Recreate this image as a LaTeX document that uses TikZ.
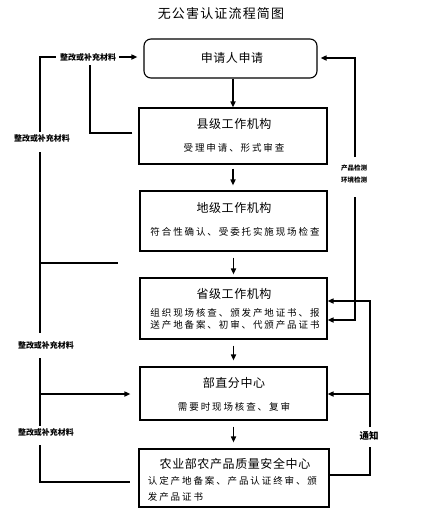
\documentclass[tikz,border=0pt]{standalone}
\usepackage{fontspec}
\newfontfamily\cjk{Noto Sans CJK SC}
\usetikzlibrary{arrows.meta}
\begin{document}
\begin{tikzpicture}[x=1pt,y=-1pt,line width=1.8pt,
  box/.style={draw,line width=1.1pt,inner sep=0pt},
  arr/.style={-{Triangle[length=6pt,width=5pt]}},
  titletxt/.style={font=\cjk\fontsize{13}{15}\selectfont\addfontfeature{LetterSpace=9},inner sep=0pt},
  maintxt/.style={font=\cjk\fontsize{12}{14}\selectfont\addfontfeature{LetterSpace=5},inner sep=0pt},
  subtxt/.style={font=\cjk\fontsize{9.5}{12}\selectfont\addfontfeature{LetterSpace=20},inner sep=0pt},
  lab/.style={font=\cjk\bfseries\fontsize{8}{9}\selectfont,inner sep=0pt},
  smlab/.style={font=\cjk\bfseries\fontsize{6.5}{12}\selectfont,inner sep=0pt,align=center},
  nlab/.style={font=\cjk\bfseries\fontsize{9.5}{11}\selectfont,inner sep=0pt}]
\useasboundingbox (0,0) rectangle (434,531);

\node[titletxt] (title) at (221,14) {无公害认证流程简图};

% boxes
\node[box,rounded corners=7pt,minimum width=173pt,minimum height=39pt] (b1) at (230.5,58.5) {};
\node[maintxt] (b1t) at (232,58) {申请人申请};

\node[box,minimum width=188pt,minimum height=56pt] (b2) at (233,136) {};
\node[maintxt] (b2t) at (234,124) {县级工作机构};
\node[subtxt] (b2s) at (234,148) {受理申请、形式审查};

\node[box,minimum width=187pt,minimum height=60pt] (b3) at (233.5,221) {};
\node[maintxt] (b3t) at (234,208) {地级工作机构};
\node[subtxt] (b3s) at (235,232) {符合性确认、受委托实施现场检查};

\node[box,minimum width=187pt,minimum height=61pt] (b4) at (233.5,308.5) {};
\node[maintxt] (b4t) at (234,294) {省级工作机构};
\node[subtxt,align=center] (b4s) at (235,319) {组织现场核查、颁发产地证书、报\\送产地备案、初审、代颁产品证书};

\node[box,minimum width=187pt,minimum height=53pt] (b5) at (233.5,393.5) {};
\node[maintxt] (b5t) at (234,383) {部直分中心};
\node[subtxt] (b5s) at (234,407) {需要时现场核查、复审};

\node[box,minimum width=190pt,minimum height=58pt] (b6) at (234,478) {};
\node[maintxt] (b6t) at (235,464) {农业部农产品质量安全中心};
\node[subtxt,align=left,font=\cjk\fontsize{9.5}{16}\selectfont\addfontfeature{LetterSpace=20},anchor=west] (b6s) at (147,489) {认定产地备案、产品认证终审、颁\\发产品证书};

% main chain
\draw[arr] (b1.south -| b2.north) -- (b2.north);
\draw[arr,shorten <=4pt,shorten >=5pt] (b2.south) -- (b2.south |- b3.north);
\draw[arr,shorten <=6pt,shorten >=3pt] (b3.south) -- (b3.south |- b4.north);
\draw[arr,shorten <=6pt,shorten >=6pt] (b4.south) -- (b4.south |- b5.north);
\draw[arr,shorten <=6pt,shorten >=6pt] (b5.south) -- (b5.south |- b6.north);

% left labels
\node[lab] (L1) at (88,57) {整改或补充材料};
\node[lab] (L2) at (42,138) {整改或补充材料};
\node[lab] (L3) at (46,345) {整改或补充材料};
\node[lab] (L4) at (46,432) {整改或补充材料};

\coordinate (cTL) at (40,57);
\coordinate (cL2a) at (40,132);
\coordinate (cL2b) at (40,152);
\coordinate (cH1) at (40,263);
\coordinate (cH1e) at (118,263);
\coordinate (cL3a) at (40,333);
\coordinate (cL3b) at (40,358);
\coordinate (cA5) at (40,394);
\coordinate (cL4a) at (40,426);
\coordinate (cL4b) at (40,445);
\coordinate (cB6) at (40,482);
\coordinate (cV) at (90,133);
\coordinate (cVtop) at (90,65);

\draw[shorten >=3pt] (cL2a) -- (cTL) -- (L1.west);
\draw[arr,shorten <=2pt,shorten >=6pt] (L1.east) -- (b1.west |- L1.east);
\draw[shorten <=6pt] (b2.west |- cV) -- (cV) -- (cVtop);
\draw (cL2b) -- (cL3a);
\draw (cH1) -- (cH1e);
\draw (cL3b) -- (cL4a);
\draw[arr,shorten >=9pt] (cA5) -- (b5.west |- cA5);
\draw[shorten >=8pt] (cL4b) -- (cB6) -- (b6.west |- cB6);

% right side
\node[smlab] (R1) at (354,174) {产品检测\\环境检测};
\node[nlab] (R2) at (369,436) {通知};

\coordinate (cR1top) at (355,58);
\coordinate (cR1a) at (355,157);
\coordinate (cR1b) at (355,197);
\coordinate (cR1bot) at (355,320);
\coordinate (cR2top) at (370,301);
\coordinate (cR2mid) at (370,394);
\coordinate (cR2a) at (370,427);
\coordinate (cR2b) at (370,447);
\coordinate (cR2bot) at (370,475);

\draw[arr,shorten >=3pt] (cR1a) -- (cR1top) -- (b1.east |- cR1top);
\draw[arr] (cR1b) -- (cR1bot) -- (b4.east |- cR1bot);
\draw[arr] (cR2a) -- (cR2top) -- (b4.east |- cR2top);
\draw[arr] (cR2mid) -- (b5.east |- cR2mid);
\draw (cR2b) -- (cR2bot) -- (b6.east |- cR2bot);
\end{tikzpicture}
\end{document}
